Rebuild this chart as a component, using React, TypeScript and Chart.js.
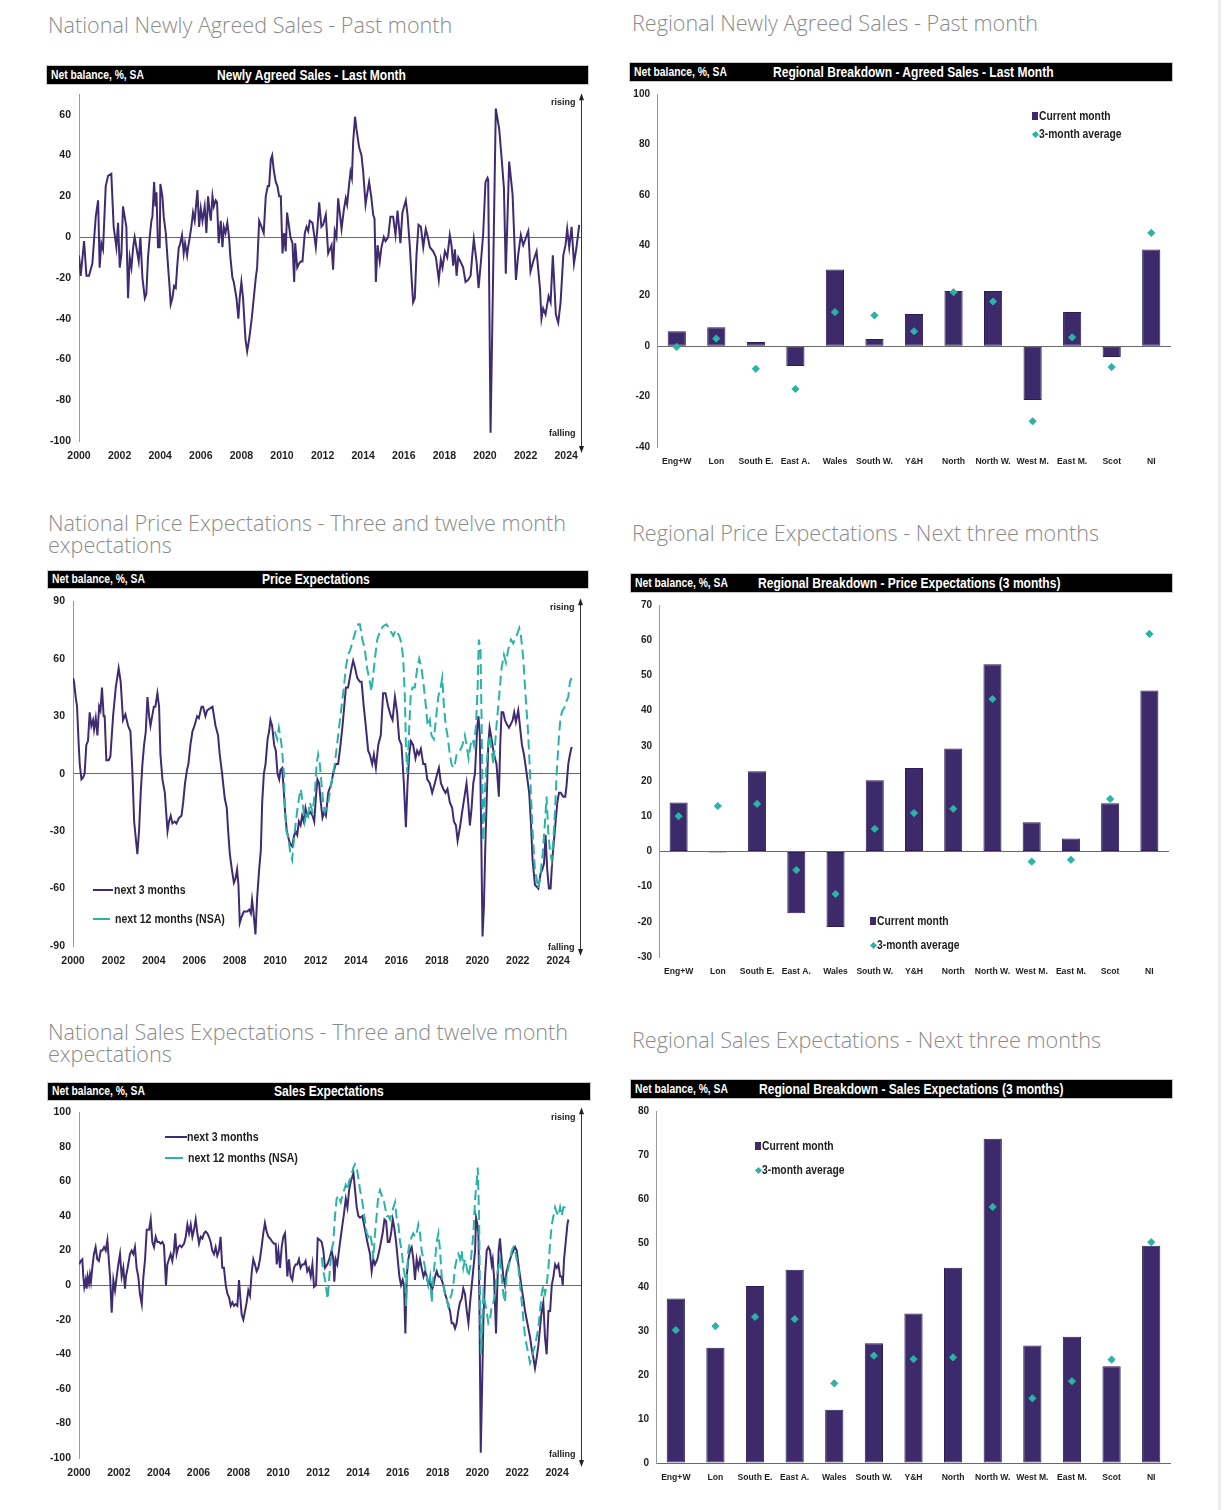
import React, { useEffect, useRef } from 'react';
import { Chart, registerables } from 'chart.js';

Chart.register(...registerables);

const FONT = '"Liberation Sans", Arial, "DejaVu Sans", sans-serif';
const PURPLE = '#3f2b71';
const TEAL = '#2ab3a6';
const BAR_COLOR = '#3c2a6b';
const TICK_COLOR = '#1e1e1e';
const NARROW = 0.86;

// ---------------- tick labels ----------------
const yearTicks = [2000, 2002, 2004, 2006, 2008, 2010, 2012, 2014, 2016, 2018, 2020, 2022, 2024];
const agreedYTicks = [-100, -80, -60, -40, -20, 0, 20, 40, 60];
const priceYTicks = [-90, -60, -30, 0, 30, 60, 90];
const salesYTicks = [-100, -80, -60, -40, -20, 0, 20, 40, 60, 80, 100];
const agreedRegionTicks = [-40, -20, 0, 20, 40, 60, 80, 100];
const priceRegionTicks = [-30, -20, -10, 0, 10, 20, 30, 40, 50, 60, 70];
const salesRegionTicks = [0, 10, 20, 30, 40, 50, 60, 70, 80];

// ---------------- categories ----------------
const regionLabels = ['Eng+W', 'Lon', 'South E.', 'East A.', 'Wales', 'South W.', 'Y&H', 'North', 'North W.', 'West M.', 'East M.', 'Scot', 'NI'];

// ---------------- regional values ----------------
const agreedCurrent = [5.9, 7.5, 1.6, -7.9, 30.4, 2.8, 12.7, 21.9, 21.9, -21.4, 13.5, -4.3, 38.3];
const agreedAvg = [-0.3, 3, -9, -17, 13.5, 12.2, 5.9, 21.4, 17.7, -29.8, 3.5, -8.3, 44.9];
const priceCurrent = [13.9, -0.3, 22.8, -17.6, -21.5, 20.2, 23.7, 29.2, 53.2, 8.3, 3.7, 13.7, 45.7];
const priceAvg = [10, 12.9, 13.5, -5.3, -12.1, 6.4, 10.9, 12.1, 43.3, -2.9, -2.4, 14.9, 61.8];
const salesCurrent = [37.4, 26.2, 40.2, 43.9, 12.1, 27.2, 34.0, 44.4, 73.7, 26.7, 28.7, 22.0, 49.4];
const salesAvg = [30.2, 31.1, 33.2, 32.7, 18.1, 24.4, 23.6, 24.0, 58.2, 14.7, 18.6, 23.5, 50.2];

// ---------------- national time series (months since Jan 2000, net balance) ----------------
const agreedMonths = [0, 1, 3, 4.4, 5.9, 7.9, 9.9, 11.3, 12.2, 13.2, 14.2, 15.8, 17.2, 19.1, 20.5, 22.1, 23.1, 24.1, 25.1, 26, 27, 28, 29, 30, 31, 32, 32.9, 33.9, 35.3, 36.3, 37.5, 38.9, 39.8, 40.8, 41.8, 42.8, 43.4, 44.4, 45.2, 45.8, 46.7, 47.7, 48.1, 49.3, 50.1, 51.3, 52.7, 53.6, 54.2, 55.2, 56.2, 57.2, 58, 59, 59.6, 60.9, 61.9, 62.7, 63.9, 64.5, 65.5, 66.4, 67.4, 68.4, 70, 71, 72, 73, 74.3, 75.3, 76.3, 77.3, 77.9, 78.9, 79.7, 80.8, 81.6, 82.6, 83.8, 84.8, 85.6, 86.6, 87.7, 88.7, 89.5, 90.7, 91.5, 93.1, 94.2, 95, 96, 97, 98.4, 99.4, 100.6, 102.1, 103.3, 104.5, 105.3, 106.5, 107.9, 109.2, 110.4, 111.6, 112.4, 113.4, 114.2, 115.1, 116.3, 117.3, 118.3, 119.3, 120.3, 121.3, 122.2, 123, 124.2, 125, 126.2, 127.2, 127.8, 129, 130.1, 131.1, 132.1, 133.5, 134.5, 135.5, 136.4, 138, 139.2, 140, 141, 142, 143.3, 144.3, 145.9, 147.3,
  149.3, 150.2, 151.2, 152.2, 153.2, 155.2, 156.5, 157.7, 158.5, 159.7, 160.5, 161.3, 162.1, 163.2, 164, 165.6, 167, 168, 169.4, 170.3, 171.5, 172.9, 173.9, 174.7, 175.5, 176.5, 177.8, 178.8, 180.2, 181.2, 182.8, 184.1, 185.7, 187.1, 188.3, 190, 191.2, 193.2, 194.2, 195.6, 196.6, 197.5, 198.5, 199.5, 200.7, 202.1, 203.5, 205, 206.2, 207.4, 209.4, 211, 212.7, 213.9, 214.9, 216.3, 217.7, 219.2, 220.2, 221.2, 222.2, 223.2, 224.2, 225.5, 227.1, 228.5, 230.1, 231.5, 232.4, 233.4, 235, 236.2, 237.6, 238.9, 240.3, 241.5, 241.9, 243.3, 246.4, 248.4, 249.8, 251.2, 252.3, 254.3, 256.3, 258.3, 259.6, 261.2, 262.6, 265.6, 266.9, 268.5, 270.5, 272.5, 273.4, 274.4, 275.8, 277.6, 278.8, 280.1, 281.9, 283.3, 284.7, 286.3, 287.6, 288.6, 289.8, 291.2, 292.6, 294.1, 295.7];
const agreedValues = [-9, -19, -2, -19, -19, -13, 10, 18, -15, -3, -6, 25, 30, 31, 5, -5, 7, -15, -8, 15, 10, 5, -30, -10, -15, -5, 0, -5, -12, 0, -20, -30, -28, -10, 0, 8, 10, 27, 15, 22, -5, -5, 26, 20, 10, 2, -15, -25, -33, -30, -24, -25, -15, -5, -4, 1, -8, -3, -9, -5, 0, 5, 12, 8, 23, 5, 14, 8, 15, 2, 20, 12, 8, 20, 15, 18, 17, -3, 8, -5, 5, 2, 7, 0, -10, -20, -22, -30, -40, -30, -22, -30, -50, -56, -50, -40, -30, -20, -15, 8, 5, 2, 20, 25, 25, 38, 40, 33, 27, 25, 20, 20, -8, 2, -7, 12, 5, 0, -3, -22, -3, -15, -13, -12, -12, 2, 5, 3, 8, 7, 0, -5, 5, 17, 5, 6, 11, -8,
  -4, -16, 3, 0, 19, 4, 13, 19, 16, 26, 32, 29, 47, 59, 53, 44, 40, 32, 16, 21, 27, 19, 11, 9, -22, -4, -12, -5, 0, -2, 0, 10, 10, 1, 13, -3, 12, 18, 11, -5, -20, -32, -30, -9, 6, 5, -5, 4, 0, -5, -7, -10, -21, -11, -15, -7, -10, 1, -4, -14, -6, -19, -10, -12, -15, -22, -21, -19, -10, -1, -12, -25, -12, 1, 27, 29, 28, -96, 63, 53, 39, 24, -18, 37, 21, -21, -9, 1, -4, 3, -17, -12, -7, -25, -40, -35, -38, -29, -32, -9, -38, -42, -32, -9, -4, 4, -5, 5, -13, -5, 6];

const price3Months = [0, 0.6, 1.6, 2.4, 3.4, 4, 5, 6, 6.9, 7.9, 8.9, 9.9, 10.9, 11.9, 12.5, 13.5, 14.5, 15.5, 16.3, 17.2, 18.2, 18.8, 19.8, 21.2, 22.2, 23.8, 25.4, 27.1, 28.3, 29.7, 31.1, 32.7, 34.1, 35.3, 36.3, 38.2, 39.2, 40.2, 41.2, 42.2, 43.2, 44.2, 45.2, 46, 47, 48, 48.9, 50.1, 51.1, 51.9, 53.1, 54.5, 56.1, 57, 58, 59, 60.4, 61.4, 63, 64.4, 65.4, 66.5, 67.7, 68.5, 69.7, 70.9, 72.1, 73.7, 74.7, 76.3, 77.2, 78.6, 79.6, 81.2, 82.8, 84.6, 86.1, 87.1, 88.5, 90.1, 91.3, 92.1, 93.1, 94.3, 95.5, 96.4, 97.4, 98.2, 99, 100, 101.4, 103.4, 104.6, 105.6, 106.3, 107.1, 108.3, 109.3, 110.5, 111.5, 112.3, 113.3, 114.3, 115.5, 116.4, 117.2, 118.2, 119.4, 120.4, 121.4, 122.4, 123.2, 124.2, 125.2, 125.9, 126.9, 128.3, 129.1, 130.1, 131.1, 132.1, 133.1, 134.1, 135.1, 136, 137, 138, 139, 141, 142.2, 143.2, 144.2, 145.1, 146.1, 147.1, 148.1, 149.1, 150.1, 151.5,
  153.4, 154.4, 156, 157.4, 158.8, 160, 161, 162, 163.3, 164.3, 165.3, 166.3, 167.5, 168.7, 170.3, 171.3, 172.6, 173.8, 175.2, 176.2, 177.6, 178.6, 179.8, 181.2, 182.7, 184.1, 185.5, 187.1, 188.7, 189.7, 191.1, 192.4, 193.6, 195, 196.4, 197.6, 198.6, 199.6, 200.6, 201.9, 203.3, 204.3, 205.3, 206.5, 207.9, 209.1, 210.3, 211.8, 213.2, 214.8, 216.2, 217.2, 218.4, 219.8, 221.1, 222.3, 223.7, 225.1, 226.1, 227.3, 228.3, 229.7, 231, 232.4, 233.6, 234.6, 235.6, 236.6, 237.6, 238.6, 240, 240.7, 241.5, 242.3, 243.1, 243.9, 244.7, 245.7, 246.5, 247.3, 248.5, 249.5, 250.5, 251.4, 252.8, 253.6, 254.4, 255.4, 256.4, 257.4, 258.8, 260, 261, 261.9, 262.9, 264.3, 265.3, 266.5, 267.7, 269.3, 270.8, 271.8, 272.8, 274.2, 276.2, 277.6, 278.6, 279.6, 280.5, 281.5, 282.5, 283.5, 284.5, 285.5, 286.5, 287.5, 288.5, 289.5, 291, 292.2, 293, 294, 295, 296];
const price3Values = [50, 48, 40, 35, 15, 5, -3, -2, 0, 15, 17, 32, 25, 28, 23, 29, 20, 35, 33, 45, 30, 30, 7, 7, 9, 30, 45, 55, 48, 28, 31, 25, 22, 0, -25, -42, -30, -10, 5, 15, 22, 40, 30, 25, 30, 35, 35, 42, 35, 10, -3, -10, -30, -25, -22, -26, -25, -26, -23, -22, -15, -5, 2, 5, 15, 22, 25, 30, 29, 35, 35, 30, 33, 34, 35, 25, 20, 10, 0, -13, -18, -30, -42, -50, -57, -55, -50, -58, -78, -75, -72, -72, -71, -73, -66, -72, -84, -65, -50, -40, -15, 0, 5, 18, 22, 28, 25, 15, 12, 0, -3, 2, 3, -10, -20, -30, -35, -37, -38, -33, -30, -32, -25, -27, -22, -25, -18, -22, -20, -22, -25, -12, -3, -5, -15, -23, -20, -22, -10,
  -5, 0, 5, 5, 15, 25, 35, 45, 45, 50, 55, 59, 55, 50, 48, 48, 35, 25, 12, 10, 5, 10, 3, 15, 20, 42, 42, 35, 30, 28, 40, 32, 18, 15, -5, -28, -5, 10, 17, 15, 8, 12, 10, 13, 5, 5, -3, -5, -10, -5, 0, 3, -5, -8, -10, -8, -15, -18, -25, -27, -35, -28, -20, -12, -5, -15, -27, -18, -5, 0, 25, 30, 20, -30, -85, -70, -40, -10, 15, 24, 18, 12, 8, 5, -12, 15, 32, 32, 28, 26, 24, 26, 28, 32, 27, 33, 25, 15, 10, 0, -10, -25, -45, -58, -60, -52, -50, -47, -32, -50, -60, -60, -45, -35, -25, -15, -10, -10, -12, -12, -6, 5, 10, 14];

const price12Months = [119.8, 121.2, 122.2, 123.8, 125.2, 125.9, 126.7, 127.7, 129.1, 130.1, 131.1, 132.3, 133.3, 134.3, 135.3, 136.2, 137.6, 138.6, 139.6, 140.6, 142.2, 143.6, 144.6, 145.5, 146.5, 147.5, 148.5, 149.5, 150.5, 151.5,
  153.4, 155.4, 157.4, 159.4, 160.8, 161.9, 163.3, 164.7, 166.3, 167.9, 169.3, 170.3, 171.8, 173.2, 174.6, 176.2, 177.2, 179.2, 180.6, 182.5, 184.1, 186.1, 188.1, 190.1, 191.6, 193.6, 195, 196, 197, 197.6, 198.4, 199.4, 200.4, 201.5, 202.9, 204.3, 205.5, 206.9, 208.3, 209.5, 210.5, 211.8, 212.8, 214.2, 215.4, 216.8, 218.2, 219.2, 220.2, 221.3, 222.3, 223.7, 224.7, 225.7, 226.7, 227.7, 229.7, 231.2, 232.6, 233.6, 234.8, 236, 237.2, 238, 239.2, 240.2, 240.9, 241.9, 242.5, 243.5, 244.5, 245.5, 246.5, 247.5, 248.5, 249.5, 250.5, 251.4, 252.4, 253.4, 254.4, 255.8, 257, 258.4, 260, 261.3, 263.3, 264.9, 265.9, 267.3, 268.7, 269.9, 270.8, 271.8, 272.8, 274.2, 276.2, 277.2, 278.8, 280.2, 281.1, 282.1, 283.1, 284.1, 285.1, 286.1, 287.1, 288.5, 289.5, 290.6, 292, 293, 294, 295, 296];
const price12Values = [22, 18, 24, 15, 0, -20, -30, -33, -42, -45, -35, -25, -18, -12, -8, -15, -25, -20, -22, -15, -20, -10, 5, 10, 5, -5, -15, -20, -18, -15,
  -5, 5, 20, 35, 45, 55, 62, 65, 70, 75, 78, 78, 70, 65, 55, 48, 43, 60, 70, 75, 77, 78, 75, 72, 75, 72, 68, 60, 40, 15, 0, 20, 40, 45, 45, 55, 60, 55, 45, 35, 25, 28, 20, 18, 28, 40, 45, 50, 35, 25, 20, 10, 5, 3, 5, 10, 12, 15, 20, 15, 8, 15, 18, 15, 25, 45, 70, 65, 30, -35, -10, 5, 15, 20, 12, 5, 15, 25, 35, 45, 55, 62, 58, 65, 70, 68, 72, 76, 72, 60, 40, 25, 10, -10, -30, -50, -60, -55, -42, -25, -12, -30, -40, -45, -35, -20, 0, 20, 30, 33, 35, 38, 40, 48, 50];

const sales3Months = [0.2, 1, 2, 2.6, 3.2, 4, 4.6, 5.2, 6, 6.6, 7.2, 8, 9, 10, 11, 12, 13.1, 14.1, 15.1, 16.1, 17.1, 17.7, 18.7, 19.7, 20.7, 21.7, 22.7, 23.7, 24.7, 25.7, 26.7, 27.7, 28.3, 29.3, 30.7, 31.7, 32.7, 33.7, 34.7, 35.7, 36.7, 37.8, 38.8, 39.8, 40.8, 42.2, 43.2, 44.2, 45.2, 46.2, 47.2, 48.2, 49.2, 50.2, 51.2, 52.4, 53.2, 54.2, 55.2, 56.2, 57.2, 58, 58.8, 59.8, 60.8, 61.8, 63.3, 64.3, 65.3, 66.3, 67.3, 68.3, 69.3, 70.3, 71.3, 72.3, 73.3, 74.3, 75.3, 76.3, 77.3, 78.3, 79.3, 80.3, 81.3, 82.3, 83.3, 84.3, 85.3, 86.3, 87.3, 88.4, 89.4, 90.4, 91.4, 92.4, 93.4, 94.4, 95.4, 96.4, 97, 98, 99, 100, 101, 102, 103, 104, 105, 106, 107, 108, 109, 110, 111, 112, 113, 114.1, 115.1, 116.5, 117.5, 118.5, 119.1, 120.1, 121.1, 122.1, 123.1, 124.1, 124.7, 125.5, 126.5, 127.5, 128.5, 129.5, 130.5, 131.5, 132.5, 133.5, 134.5, 135.5, 136.5, 137.5, 138.5, 139.6, 140.6, 141.6, 142.8, 143.8, 145.2, 146.2, 147.2, 148.2,
  149.6, 150.8, 152.2, 153.2, 153.8, 154.6, 155.6, 156.6, 157.7, 158.7, 159.7, 160.7, 161.7, 162.7, 163.7, 164.7, 165.3, 166.3, 167.3, 168.3, 169.3, 170.7, 171.7, 172.7, 173.7, 175.3, 176.3, 177.3, 178.3, 179.7, 180.9, 181.9, 182.9, 184, 185, 186, 187, 188, 189, 189.8, 191, 192, 193, 194, 195, 195.8, 196.6, 197.4, 198.4, 199.4, 200.4, 201.4, 202.4, 203.4, 204.4, 205.4, 206.4, 207.5, 208.5, 209.5, 210.5, 211.5, 212.5, 213.5, 214.5, 215.5, 216.5, 217.5, 218.5, 219.5, 220.5, 221.5, 222.5, 223.5, 224.5, 225.5, 226.5, 227.5, 228.5, 229.5, 230.5, 231.5, 232.5, 233.6, 234.6, 235.6, 236.6, 237.6, 238.6, 239.2, 240, 240.6, 241.2, 242, 242.8, 243.6, 244.6, 245.6, 246.6, 247.6, 248.6, 249.2, 250, 251.2, 252, 252.8, 253.6, 254.6, 255.6, 256.6, 257.6, 258.7, 259.7, 260.7, 261.7, 262.7, 263.7, 264.7, 265.7, 266.7, 267.7, 268.7, 269.7, 270.7, 271.7, 272.7, 273.7, 274.7, 275.7, 276.7, 277.7, 278.7, 279.7, 280.7, 281.7, 282.8, 283.8, 284.8, 285.8, 286.8, 287.8, 288.8, 289.8, 290.8, 291.4, 292.2, 293.2, 294.2, 294.8];
const sales3Values = [12, 14, 15, 5, -1, 3, -2, 5, 1, 6, 2, 10, 18, 22, 15, 14, 20, 20, 22, 20, 26, 18, 5, -16, 3, -3, 5, 12, 18, 5, 10, -2, 5, 10, 18, 20, 18, 22, 10, 5, -5, -11, 5, 15, 32, 32, 38, 25, 22, 28, 25, 25, 24, 25, 23, 0, 12, 15, 18, 14, 20, 30, 18, 22, 23, 22, 24, 28, 35, 30, 35, 28, 32, 38, 30, 24, 28, 27, 30, 31, 30, 28, 25, 20, 18, 22, 17, 20, 28, 10, 10, 0, -5, -7, -12, -10, -12, -11, -12, 3, -5, -17, -20, -15, -10, -3, -6, 7, 15, 12, 8, 10, 15, 22, 30, 36, 31, 28, 27, 25, 24, 24, 12, 20, 10, 22, 28, 30, 20, 5, 15, 5, 3, 10, 12, 12, 15, 10, 12, 12, 14, 8, 10, 5, 12, -1, 0, 27, 26, 25, 20, 10,
  12, 15, 20, 15, 2, 15, 12, 20, 28, 35, 42, 50, 45, 55, 60, 63, 65, 55, 45, 40, 39, 40, 35, 30, 25, 18, 8, 15, 12, 15, 20, 25, 30, 38, 37, 25, 25, 30, 38, 34, 25, 15, 5, 0, 3, 0, -28, 5, 15, 20, 22, 15, 3, 15, 10, 15, 10, 5, 8, 5, 0, 3, -3, 0, 5, 8, 5, 5, 3, 0, -5, -8, -12, -15, -22, -22, -25, -22, -15, -10, -8, -2, -5, -15, -22, -10, 0, 10, 20, 39, 35, 30, -10, -97, -60, -20, 5, 20, 22, 20, 12, 15, 5, -28, 0, 20, 27, 15, 5, 0, 8, 12, 15, 18, 20, 22, 20, 12, 5, -2, -8, -15, -20, -25, -30, -37, -42, -48, -42, -35, -25, -15, -10, -30, -40, -15, -15, 0, 5, 12, 10, 12, 5, 5, 0, 15, 25, 35, 38];

const sales12Months = [146.2, 147.2, 148.2, 149.8, 151.2, 152.2, 153.2, 154.2, 155.2, 156.2, 157.7, 158.7, 159.7, 160.7, 161.7, 162.7, 163.7, 165.3, 166.3, 167.3, 168.3, 169.3, 170.7, 171.9, 173.3, 174.3, 175.3, 176.3, 177.3, 178.3, 179.3, 180.3, 181.3, 182.3, 183.4, 184.4, 185.4, 186.4, 187.4, 188.4, 189.4, 190.4, 191.4, 192.4, 193.4, 194.4, 195.4, 196.4, 197, 197.8, 198.4, 199.4, 200.4, 201.4, 202.4, 203.4, 204.4, 205.4, 206.4, 207.5, 208.5, 209.5, 210.5, 211.5, 212.5, 213.5, 214.5, 215.5, 216.5, 217.5, 218.5, 219.5, 220.5, 221.5, 222.5, 223.5, 224.5, 225.5, 226.5, 227.5, 228.5, 229.5, 230.5, 231.5, 232.5, 233.6, 234.6, 235.6, 236.6, 237.6, 238.6, 239.6, 240.2, 241, 241.6, 242.2, 243, 243.6, 244.6, 245.6, 246.6, 247.6, 248.6, 249.6, 250.6, 251.6, 252.6, 253.6, 254.6, 255.6, 256.6, 257.6, 258.7, 259.7, 260.7, 261.7, 262.7, 263.7, 264.7, 265.7, 266.7, 267.7, 268.7, 269.7, 270.7, 271.7, 272.7, 273.7, 274.7, 275.7, 276.7, 277.7, 278.7, 279.7, 280.7, 281.7, 282.8, 283.8, 284.8, 285.8, 286.8, 287.8, 288.8, 289.8, 290.8, 291.8, 292.8, 293.8];
const sales12Values = [16, 8, 3, -8, 10, 20, 25, 40, 50, 52, 48, 52, 55, 58, 55, 60, 62, 68, 70, 68, 62, 55, 48, 40, 30, 28, 30, 25, 15, 30, 40, 52, 55, 52, 50, 45, 40, 40, 38, 42, 45, 48, 38, 35, 25, 20, 10, 5, -12, 10, 20, 25, 28, 30, 28, 30, 35, 30, 20, 15, 10, 5, 0, 5, -10, 5, 15, 25, 30, 20, 5, 0, -5, -8, -12, -8, -5, 0, 10, 15, 18, 15, 20, 10, 15, 10, 5, 10, 20, 30, 50, 60, 68, 40, -10, -40, -20, -5, -10, -15, -22, -20, -12, -10, -5, 5, 10, 15, 5, -5, -10, 5, 10, 15, 20, 22, 20, 15, 10, 0, -10, -20, -30, -35, -40, -45, -42, -38, -35, -30, -25, -15, -5, 0, -5, 0, 10, 25, 35, 40, 45, 42, 40, 45, 40, 45, 45, 46];

// ---------------- plugins ----------------
const risingFalling = {
  id: 'risingFalling',
  afterDraw(chart: any, _args: any, opts: any) {
    if (!opts || !opts.show) return;
    const { ctx, chartArea: a } = chart;
    const x = Math.round(a.right) + 0.5;
    const yT = a.top - opts.topExt;
    const yB = a.bottom + opts.ext;
    ctx.save();
    ctx.strokeStyle = '#333';
    ctx.lineWidth = 1;
    ctx.beginPath();
    ctx.moveTo(x, yT + 3);
    ctx.lineTo(x, yB - 3);
    ctx.stroke();
    ctx.fillStyle = '#222';
    ctx.beginPath();
    ctx.moveTo(x, yT - 1);
    ctx.lineTo(x - 2.5, yT + 6);
    ctx.lineTo(x + 2.5, yT + 6);
    ctx.closePath();
    ctx.fill();
    ctx.beginPath();
    ctx.moveTo(x, yB + 1);
    ctx.lineTo(x - 2.5, yB - 6);
    ctx.lineTo(x + 2.5, yB - 6);
    ctx.closePath();
    ctx.fill();
    ctx.font = `bold 9px ${FONT}`;
    ctx.textAlign = 'right';
    ctx.textBaseline = 'middle';
    ctx.fillStyle = '#222';
    ctx.fillText('rising', x - 6, a.top + opts.rise);
    ctx.fillText('falling', x - 6, a.bottom + opts.fall);
    ctx.restore();
  },
};

const zeroGrid = (c: any) => (c.tick && c.tick.value === 0 ? '#6a6a6a' : 'rgba(0,0,0,0)');

type Series = { months: number[]; values: number[]; color: string; dash?: number[]; order: number };

type TimeProps = {
  x0: number; x1: number; yTop: number; yBottom: number;
  yMin: number; yMax: number; yTicks: number[]; xMax: number;
  series: Series[]; rise: number; fall: number; ext: number; topExt: number;
};

function TimeChart(p: TimeProps) {
  const ref = useRef<HTMLCanvasElement | null>(null);
  const YW = 40, PT = 12, PR = 14, XB = 28;
  const left = p.x0 - YW;
  const top = p.yTop - PT;
  const width = p.x1 + PR - left;
  const height = p.yBottom - p.yTop + PT + XB;
  useEffect(() => {
    const chart = new Chart(ref.current as HTMLCanvasElement, {
      type: 'line',
      data: {
        datasets: p.series.map((s) => ({
          data: s.months.map((m, i) => ({ x: 2000 + m / 12, y: s.values[i] })),
          borderColor: s.color,
          borderWidth: 2,
          borderDash: s.dash || [],
          pointRadius: 0,
          tension: 0,
          fill: false,
          order: s.order,
        })),
      },
      options: {
        animation: false,
        responsive: false,
        maintainAspectRatio: false,
        events: [],
        layout: { padding: { left: 0, right: PR, top: PT, bottom: 0 } },
        plugins: {
          legend: { display: false },
          tooltip: { enabled: false },
          risingFalling: { show: true, rise: p.rise, fall: p.fall, ext: p.ext, topExt: p.topExt },
        } as any,
        scales: {
          x: {
            type: 'linear',
            min: 2000,
            max: p.xMax,
            afterBuildTicks: (s: any) => { s.ticks = yearTicks.map((v) => ({ value: v })); },
            afterFit: (s: any) => { s.height = XB; },
            grid: { display: false, drawTicks: false },
            border: { display: false },
            ticks: {
              color: TICK_COLOR,
              font: { family: FONT, size: 10.5, weight: 'bold' },
              padding: 9,
              maxRotation: 0,
              autoSkip: false,
              callback: (v: any) => String(v),
            },
          },
          y: {
            type: 'linear',
            min: p.yMin,
            max: p.yMax,
            afterBuildTicks: (s: any) => { s.ticks = p.yTicks.map((v) => ({ value: v })); },
            afterFit: (s: any) => { s.width = YW; },
            grid: { color: zeroGrid, drawTicks: false, lineWidth: 1 },
            border: { display: true, color: '#9a9a9a', width: 1 },
            ticks: {
              color: TICK_COLOR,
              font: { family: FONT, size: 10.5, weight: 'bold' },
              padding: 8,
              callback: (v: any) => String(v),
            },
          },
        },
      } as any,
      plugins: [risingFalling as any],
    });
    return () => chart.destroy();
  }, []);
  return <canvas ref={ref} width={width} height={height} style={{ position: 'absolute', left, top, width, height }} />;
}

type BarProps = {
  x0: number; x1: number; yTop: number; yBottom: number;
  yMin: number; yMax: number; yTicks: number[];
  current: number[]; avg: number[];
};

function BarChart(p: BarProps) {
  const ref = useRef<HTMLCanvasElement | null>(null);
  const YW = 40, PT = 10, PR = 4, XB = 26;
  const left = p.x0 - YW;
  const top = p.yTop - PT;
  const width = p.x1 + PR - left;
  const height = p.yBottom - p.yTop + PT + XB;
  useEffect(() => {
    const chart = new Chart(ref.current as HTMLCanvasElement, {
      type: 'bar',
      data: {
        labels: regionLabels,
        datasets: [
          {
            type: 'bar',
            label: 'Current month',
            data: p.current,
            backgroundColor: BAR_COLOR,
            borderColor: '#2c1d55',
            borderWidth: 1,
            borderSkipped: false,
            barPercentage: 1,
            categoryPercentage: 0.46,
            order: 1,
          },
          {
            type: 'line',
            label: '3-month average',
            data: p.avg,
            showLine: false,
            pointStyle: 'rectRot',
            pointRadius: 3.6,
            pointBackgroundColor: TEAL,
            pointBorderColor: TEAL,
            order: 0,
          },
        ],
      } as any,
      options: {
        animation: false,
        responsive: false,
        maintainAspectRatio: false,
        events: [],
        layout: { padding: { left: 0, right: PR, top: PT, bottom: 0 } },
        plugins: { legend: { display: false }, tooltip: { enabled: false } },
        scales: {
          x: {
            type: 'category',
            afterFit: (s: any) => { s.height = XB; },
            grid: { display: false, drawTicks: false },
            border: { display: false },
            ticks: {
              color: TICK_COLOR,
              font: { family: FONT, size: 8.6, weight: 'bold' },
              padding: 9,
              maxRotation: 0,
              autoSkip: false,
            },
          },
          y: {
            type: 'linear',
            min: p.yMin,
            max: p.yMax,
            afterBuildTicks: (s: any) => { s.ticks = p.yTicks.map((v) => ({ value: v })); },
            afterFit: (s: any) => { s.width = YW; },
            grid: { color: zeroGrid, drawTicks: false, lineWidth: 1 },
            border: { display: true, color: '#9a9a9a', width: 1 },
            ticks: {
              color: TICK_COLOR,
              font: { family: FONT, size: 10, weight: 'bold' },
              padding: 7,
              callback: (v: any) => String(v),
            },
          },
        },
      } as any,
    });
    return () => chart.destroy();
  }, []);
  return <canvas ref={ref} width={width} height={height} style={{ position: 'absolute', left, top, width, height }} />;
}

function Title({ x, y, lines }: { x: number; y: number; lines: string[] }) {
  return (
    <div style={{ position: 'absolute', left: x, top: y - 11, fontFamily: '"Open Sans", sans-serif', fontWeight: 300, fontSize: 21.6, lineHeight: '22px', color: '#8a8a8a', whiteSpace: 'nowrap' }}>
      {lines.map((l) => <div key={l}>{l}</div>)}
    </div>
  );
}

const narrowText = (size: number) => ({
  position: 'absolute' as const,
  fontFamily: FONT,
  fontWeight: 'bold' as const,
  fontSize: size,
  whiteSpace: 'nowrap' as const,
  transform: `scaleX(${NARROW})`,
  transformOrigin: 'left center',
});

function Header({ x, y, w, h, title, titleX }: { x: number; y: number; w: number; h: number; title: string; titleX: number }) {
  return (
    <div style={{ position: 'absolute', left: x, top: y, width: w, height: h, background: '#000', boxShadow: '0 0 0 1px #c8c8c8', color: '#fff' }}>
      <span style={{ ...narrowText(12), left: 4, top: 0, lineHeight: `${h}px` }}>Net balance, %, SA</span>
      <span style={{ ...narrowText(14), left: titleX - x, top: 0, lineHeight: `${h}px` }}>{title}</span>
    </div>
  );
}

function LineKey({ x1, x2, y, color, label, textX }: { x1: number; x2: number; y: number; color: string; label: string; textX: number }) {
  return (
    <>
      <div style={{ position: 'absolute', left: x1, top: y - 1, width: x2 - x1, height: 2, background: color }} />
      <div style={{ ...narrowText(12.3), left: textX, top: y - 8, lineHeight: '16px', color: '#1e1e1e' }}>{label}</div>
    </>
  );
}

function BarKey({ x, y1, y2 }: { x: number; y1: number; y2: number }) {
  return (
    <>
      <div style={{ position: 'absolute', left: x, top: y1 - 4, width: 6, height: 8, background: BAR_COLOR }} />
      <div style={{ ...narrowText(12), left: x + 7, top: y1 - 8, lineHeight: '16px', color: '#1e1e1e' }}>Current month</div>
      <div style={{ position: 'absolute', left: x + 1, top: y2 - 2.5, width: 5, height: 5, background: TEAL, transform: 'rotate(45deg)' }} />
      <div style={{ ...narrowText(12), left: x + 7, top: y2 - 8, lineHeight: '16px', color: '#1e1e1e' }}>3-month average</div>
    </>
  );
}

export default function App() {
  return (
    <div style={{ position: 'absolute', left: 0, top: 0, width: 1224, height: 1510, background: '#fff', overflow: 'hidden' }}>
      <div style={{ position: 'absolute', left: 1218, top: 0, width: 3, height: 1510, background: '#ededed' }} />

      {/* Row 1 */}
      <Title x={48} y={25} lines={['National Newly Agreed Sales - Past month']} />
      <Header x={47} y={66} w={541} h={18} title="Newly Agreed Sales - Last Month" titleX={217} />
      <TimeChart x0={79} x1={581} yTop={92} yBottom={441} yMin={-100} yMax={70} yTicks={agreedYTicks} xMax={2024.73}
        series={[{ months: agreedMonths, values: agreedValues, color: PURPLE, order: 0 }]}
        rise={8} fall={-7} ext={11} topExt={0} />

      <Title x={632} y={23} lines={['Regional Newly Agreed Sales - Past month']} />
      <Header x={630} y={63} w={542} h={18} title="Regional Breakdown - Agreed Sales - Last Month" titleX={773} />
      <BarChart x0={657} x1={1172} yTop={91} yBottom={447} yMin={-40} yMax={100} yTicks={agreedRegionTicks} current={agreedCurrent} avg={agreedAvg} />
      <BarKey x={1032} y1={116} y2={134} />

      {/* Row 2 */}
      <Title x={48} y={523} lines={['National Price Expectations - Three and twelve month', 'expectations']} />
      <Header x={48} y={571} w={540} h={17} title="Price Expectations" titleX={262} />
      <TimeChart x0={73} x1={580} yTop={599} yBottom={946} yMin={-90} yMax={90} yTicks={priceYTicks} xMax={2025.08}
        series={[
          { months: price12Months, values: price12Values, color: TEAL, dash: [10, 5], order: 0 },
          { months: price3Months, values: price3Values, color: PURPLE, order: 1 },
        ]}
        rise={6} fall={2} ext={9} topExt={2} />
      <LineKey x1={93} x2={113} y={890} color={PURPLE} label="next 3 months" textX={114} />
      <LineKey x1={93} x2={110} y={919} color={TEAL} label="next 12 months (NSA)" textX={115} />

      <Title x={632} y={533} lines={['Regional Price Expectations - Next three months']} />
      <Header x={631} y={574} w={541} h={18} title="Regional Breakdown - Price Expectations (3 months)" titleX={758} />
      <BarChart x0={659} x1={1170} yTop={602} yBottom={957} yMin={-30} yMax={70} yTicks={priceRegionTicks} current={priceCurrent} avg={priceAvg} />
      <BarKey x={870} y1={921} y2={945} />

      {/* Row 3 */}
      <Title x={48} y={1032} lines={['National Sales Expectations - Three and twelve month', 'expectations']} />
      <Header x={48} y={1083} w={542} h={17} title="Sales Expectations" titleX={274} />
      <TimeChart x0={79} x1={581} yTop={1110} yBottom={1458} yMin={-100} yMax={100} yTicks={salesYTicks} xMax={2025.2}
        series={[
          { months: sales12Months, values: sales12Values, color: TEAL, dash: [10, 5], order: 0 },
          { months: sales3Months, values: sales3Values, color: PURPLE, order: 1 },
        ]}
        rise={5} fall={-3} ext={8} topExt={4} />
      <LineKey x1={165} x2={187} y={1137} color={PURPLE} label="next 3 months" textX={187} />
      <LineKey x1={165} x2={183} y={1158} color={TEAL} label="next 12 months (NSA)" textX={188} />

      <Title x={632} y={1040} lines={['Regional Sales Expectations - Next three months']} />
      <Header x={631} y={1080} w={541} h={18} title="Regional Breakdown - Sales Expectations (3 months)" titleX={759} />
      <BarChart x0={656} x1={1172} yTop={1108} yBottom={1463} yMin={0} yMax={80} yTicks={salesRegionTicks} current={salesCurrent} avg={salesAvg} />
      <BarKey x={755} y1={1146} y2={1170} />
    </div>
  );
}
